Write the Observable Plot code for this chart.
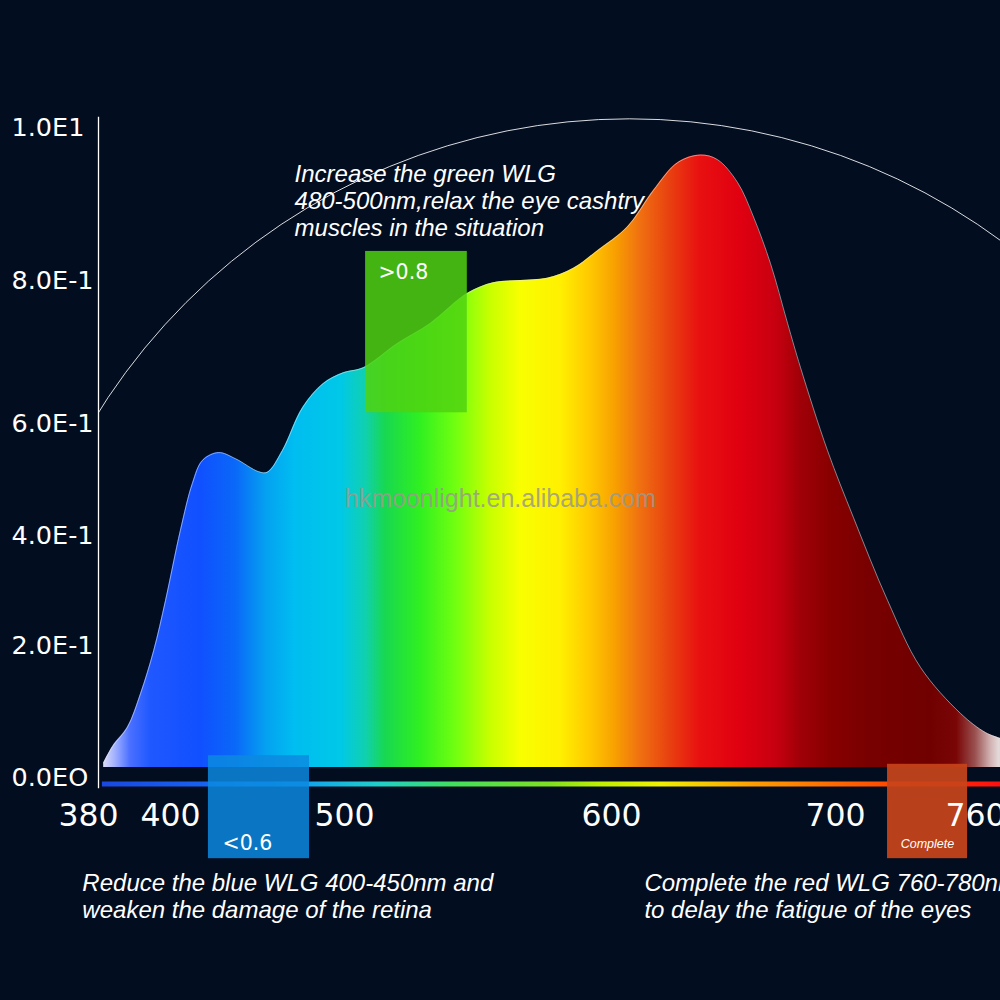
<!DOCTYPE html>
<html>
<head>
<meta charset="utf-8">
<script src="https://cdn.jsdelivr.net/npm/d3@7"></script>
<script src="https://cdn.jsdelivr.net/npm/@observablehq/plot@0.6"></script>
<style>
  html, body { margin: 0; padding: 0; background: #020d20; }
  svg { display: block; }
</style>
</head>
<body>
<div id="chart"></div>
<script>
// ---- data ----
const wavelengths = [383.7, 385.9, 389.5, 392.7, 395.9, 398.8, 405.7, 412.6, 418.4, 427.6,
  437.4, 450.6, 455.7, 464.4, 475.9, 487.9, 499.4, 507.1, 519.9, 532.2,
  546.1, 555.8, 565.9, 576.0, 585.8, 594.8, 607.1, 618.8, 629.5, 639.7,
  647.3, 656.3, 663.4, 671.0, 678.6, 684.4, 696.4, 707.7, 722.3, 736.4,
  753.6, 764.3, 770.7];
const intensity = [0.022, 0.047, 0.076, 0.127, 0.192, 0.282, 0.409, 0.493, 0.534, 0.548,
  0.537, 0.514, 0.513, 0.552, 0.622, 0.656, 0.671, 0.678, 0.712, 0.740,
  0.782, 0.797, 0.800, 0.803, 0.816, 0.839, 0.870, 0.918, 0.954, 0.964,
  0.958, 0.928, 0.883, 0.822, 0.740, 0.678, 0.552, 0.432, 0.282, 0.167,
  0.097, 0.068, 0.059];
const spectrumFloor = 0.015;

const xTicks = [380, 400, 500, 600, 700, 760];
const yTicks = [0, 0.2, 0.4, 0.6, 0.8, 1.0];
const yTickLabels = ["0.0EO", "2.0E-1", "4.0E-1", "6.0E-1", "8.0E-1", "1.0E1"];

// colour stops of the spectrum fill (by wavelength)
const specStopWl = [383.7, 386.6, 390.2, 395.1, 417.2, 437.4, 454.6, 471.8, 497.7, 507.9,
  515.4, 528.5, 541.6, 554.7, 565.9, 580.9, 592.1, 601.8, 612.9, 626.3,
  639.7, 657.6, 673.2, 684.4, 697.8, 715.0, 740.7, 752.0, 760.0, 766.4, 770.7];
const specStopColor = ["#dcdcf8", "#a0b0ff", "#4a70ff", "#2058ff", "#1050ff", "#0a68f8", "#05a0f0", "#00bef0", "#00c8e8", "#10d0b0",
  "#18d850", "#30f020", "#70ff10", "#c8ff00", "#f8ff00", "#fff000", "#ffc800", "#f8a000", "#f07010", "#e84010",
  "#e81010", "#e00010", "#c80010", "#a00008", "#880000", "#780000", "#700000", "#7a0606", "#9a5050", "#d0b0b0", "#e8e0e0"];

// colour stops of the wavelength bar
const barStopWl = [383.4, 417.2, 474.7, 513.5, 539.7, 577.2, 596.0, 621.8, 662.0, 706.4, 741.0, 770.7];
const barStopColor = ["#1a48e0", "#1860f0", "#10a0f0", "#20d0c8", "#40e060", "#80e020", "#c0f000", "#f0f000", "#ffa000", "#ff6000", "#ff3000", "#ff1010"];
const barLevel = -0.0098;

// highlight boxes
const boxLabels = [">0.8", "<0.6", "Complete"];
const boxWl1 = [507.9, 421.8, 722.3];
const boxWl2 = [546.0, 479.9, 756.6];
const boxTop = [0.838, 0.033, 0.020];
const boxBottom = [0.615, -0.123, -0.123];
const boxColors = ["#50d212", "#0c8ae0", "#c8441a"];

// annotations
const notes = [
  "Increase the green WLG\n480-500nm,relax the eye cashtry\nmuscles in the situation",
  "Reduce the blue WLG 400-450nm and\nweaken the damage of the retina",
  "Complete the red WLG 760-780nm\nto delay the fatigue of the eyes"
];
const noteWl = [471.3, 378.5, 614.7];
const noteV = [0.905, -0.179, -0.179];
const watermark = "hkmoonlight.en.alibaba.com";

const arcCenter = {w: 608, v: 0.048};

const spectrum = wavelengths.map((w, i) => ({w, v: intensity[i]}));
const yTickData = yTicks.map((v, i) => ({v, label: yTickLabels[i]}));

// piecewise (non-uniform) axes of the original picture
const xPiece = d3.scaleLinear().domain(xTicks).range([88, 170, 344, 611, 835, 975]);
const yPiece = d3.scaleLinear().domain(yTicks).range([777, 645, 535, 423, 280, 127]);

const chart = Plot.plot({
  width: 1000,
  height: 1000,
  marginLeft: 98, marginTop: 117, marginBottom: 213, marginRight: 0,
  style: {background: "#020d20", color: "white", fontFamily: "DejaVu Sans"},
  x: {transform: xPiece, domain: [0, 1000], range: [0, 1000], axis: null},
  y: {transform: yPiece, domain: [0, 1000], range: [0, 1000], axis: null},
  marks: [
    Plot.frame({anchor: "left", stroke: "white", strokeWidth: 1.3}),
    Plot.areaY(spectrum, {x: "w", y1: spectrumFloor, y2: "v", curve: "catmull-rom", fill: "url(#specGrad)"}),
    Plot.line(spectrum, {x: "w", y: "v", curve: "catmull-rom", stroke: "#e8e8e8", strokeWidth: 1, strokeOpacity: 0.55}),
    Plot.ruleY([barLevel], {x1: 383.4, x2: 775, stroke: "url(#barGrad)", strokeWidth: 5}),
    Plot.text([watermark], {x: 558.4, y: 0.466, text: d => d, fontSize: 25, fontFamily: "Liberation Sans", fill: "#9a9a8a", fillOpacity: 0.85}),
    boxLabels.map((lab, i) => Plot.rect([lab], {x1: boxWl1[i], x2: boxWl2[i], y1: boxTop[i], y2: boxBottom[i], fill: boxColors[i], fillOpacity: i === 2 ? 0.92 : 0.85})),
    Plot.text([boxLabels[0]], {x: 512.7, y: 0.8105, text: d => d, textAnchor: "start", fontSize: 20.5, fill: "white"}),
    Plot.text([boxLabels[1]], {x: 429.9, y: -0.1, text: d => d, textAnchor: "start", fontSize: 20.5, fill: "white"}),
    Plot.text([boxLabels[2]], {x: 739.4, y: -0.1, text: d => d, fontSize: 12.5, fontStyle: "italic", fontFamily: "Liberation Sans", fill: "white"}),
    Plot.text(xTicks, {x: d => d, text: d => String(d), frameAnchor: "bottom", lineAnchor: "middle", dy: 28, fontSize: 31.5, fill: "white"}),
    Plot.text(yTickData, {y: "v", text: "label", frameAnchor: "left", lineAnchor: "middle", dx: -87, textAnchor: "start", fontSize: 25.5, fill: "white"}),
    notes.map((t, i) => Plot.text([t], {x: noteWl[i], y: noteV[i], text: d => d, textAnchor: "start", lineAnchor: "middle", lineHeight: 1.125, fontSize: 24, fontStyle: "italic", fontFamily: "Liberation Sans", fill: "white"})),
    Plot.dot([arcCenter], {x: "w", y: "v", r: 627, stroke: "white", strokeWidth: 1, strokeOpacity: 0.85, fill: "none", clip: "frame"})
  ]
});

// gradients defined from the wavelength positions
const svg = d3.select(chart);
const defs = svg.insert("defs", ":first-child");
function addGrad(id, wls, cols) {
  const g = defs.append("linearGradient").attr("id", id).attr("gradientUnits", "userSpaceOnUse")
    .attr("x1", 0).attr("x2", 1000).attr("y1", 0).attr("y2", 0);
  wls.forEach((w, i) => {
    g.append("stop").attr("offset", Math.max(0, Math.min(1, xPiece(w) / 1000))).attr("stop-color", cols[i]);
  });
}
addGrad("specGrad", specStopWl, specStopColor);
addGrad("barGrad", barStopWl, barStopColor);

document.getElementById("chart").append(chart);
</script>
</body>
</html>
